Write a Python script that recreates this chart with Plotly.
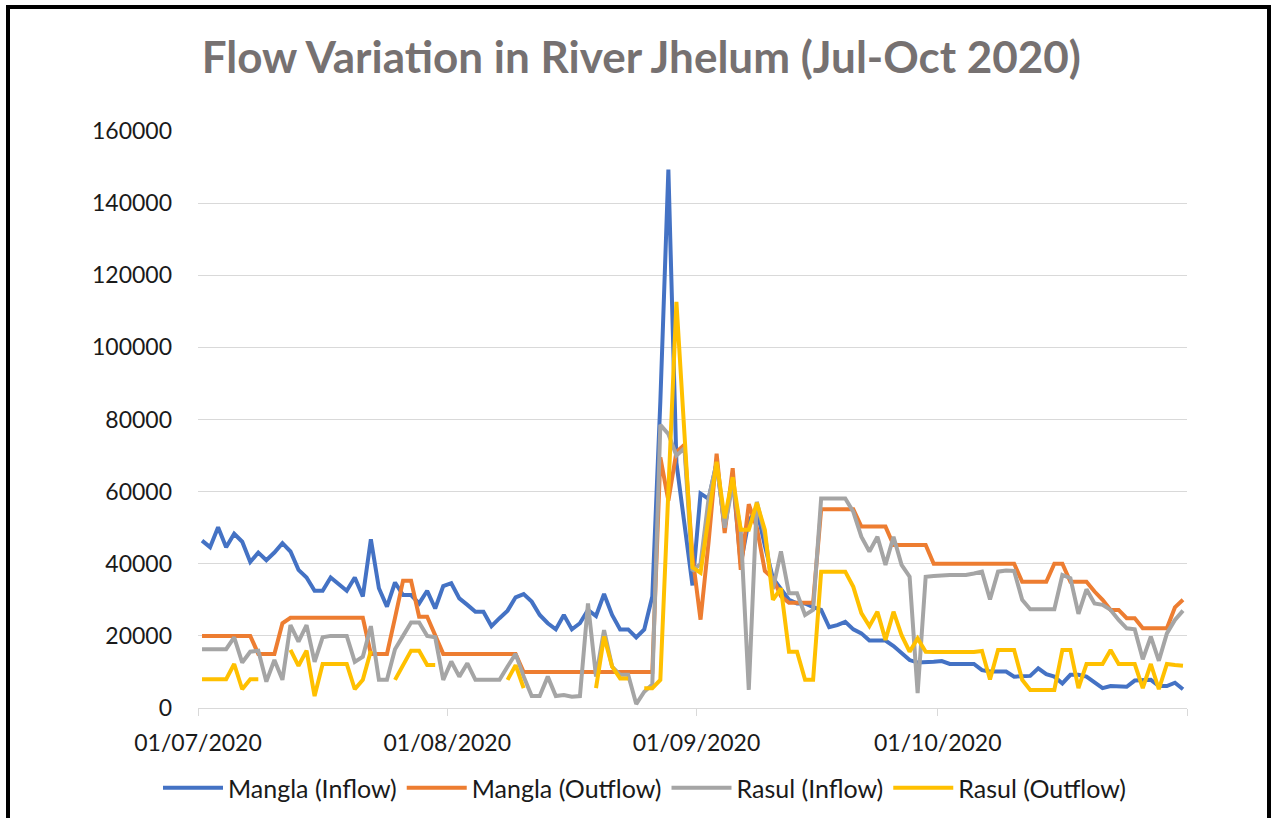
import pandas as pd
import plotly.graph_objects as go

# Daily dates (Jul 1 - Oct 31, 2020), plotted at mid-day like Excel's date axis
dates = pd.date_range("2020-07-01 12:00", "2020-10-31 12:00", freq="D")

mangla_inflow = [
    46.4, 44.6, 50.1, 44.6, 48.3, 46.1, 40.5, 43.1, 41.0, 43.1,
    45.7, 43.4, 38.3, 36.2, 32.5, 32.5, 36.2, 34.4, 32.5, 36.2,
    30.9, 46.8, 33.2, 28.1, 34.8, 31.3, 31.3, 29.0, 32.5, 27.6,
    33.8, 34.6, 30.4, 28.6, 26.7, 26.7, 22.7, 24.9, 27.0, 30.7,
    31.6, 29.5, 25.8, 23.5, 21.8, 25.8, 21.8, 23.5, 27.2, 25.5,
    31.6, 25.8, 21.8, 21.8, 19.6, 21.8, 30.9, 85.0, 149.3, 68.0,
    50.0, 34.0, 59.5, 58.0, 68.0, 50.0, 64.0, 40.0, 52.0, 55.0,
    45.0, 36.0, 33.0, 30.0, 29.0, 29.0, 28.0, 27.2, 22.4, 23.0,
    23.9, 21.8, 20.7, 18.7, 18.7, 18.7, 17.2, 15.2, 13.3, 12.6,
    12.6, 12.8, 13.0, 12.2, 12.2, 12.2, 12.2, 10.5, 10.1, 10.1,
    10.1, 8.7, 8.9, 8.9, 11.0, 9.4, 8.7, 6.8, 9.2, 9.2,
    8.7, 7.0, 5.5, 6.1, 6.1, 5.9, 7.6, 7.6, 7.8, 6.1,
    6.1, 7.0, 5.2,
]

mangla_outflow = [
    20, 20, 20, 20, 20, 20, 20, 15, 15, 15,
    23.5, 25, 25, 25, 25, 25, 25, 25, 25, 25,
    25, 15, 15, 15, 25, 35.3, 35.3, 25.3, 25.3, 20,
    15, 15, 15, 15, 15, 15, 15, 15, 15, 15,
    10, 10, 10, 10, 10, 10, 10, 10, 10, 10,
    10, 10, 10, 10, 10, 10, 10, 69.5, 57.5, 71.0,
    73.0, 42.0, 24.5, 46.0, 70.5, 48.5, 66.5, 38.3, 56.5, 50.0,
    38.0, 36.0, 31.0, 29.2, 29.2, 29.2, 29.2, 55.1, 55.1, 55.1,
    55.1, 55.1, 50.3, 50.3, 50.3, 50.3, 45.2, 45.2, 45.2, 45.2,
    45.2, 40, 40, 40, 40, 40, 40, 40, 40, 40,
    40, 40, 35, 35, 35, 35, 40, 40, 35, 35,
    35, 32.3, 30, 27.2, 27.2, 24.9, 24.9, 22.1, 22.1, 22.1,
    22.1, 27.9, 30,
]

rasul_inflow = [
    16.3, 16.3, 16.3, 16.3, 19.6, 12.6, 15.6, 15.9, 7.3, 13.3,
    7.8, 23.0, 18.4, 23.0, 12.8, 19.6, 20.0, 20.0, 20.0, 12.8,
    14.2, 22.7, 7.8, 7.8, 16.3, 20.0, 23.7, 23.7, 20.0, 19.6,
    7.8, 12.9, 8.7, 12.4, 7.8, 7.8, 7.8, 7.8, 11.5, 15.0,
    8.7, 3.3, 3.3, 8.7, 3.3, 3.6, 3.1, 3.3, 29.0, 8.7,
    21.6, 11.5, 9.2, 9.2, 1.1, 4.5, 6.5, 78.5, 76.0, 70.0,
    72.0, 38.0, 40.0, 58.0, 68.0, 50.0, 62.0, 49.4, 5.0, 57.2,
    48.0, 33.0, 43.4, 31.8, 31.8, 25.8, 27.2, 58.1, 58.1, 58.1,
    58.1, 54.4, 47.5, 43.4, 47.5, 39.7, 47.5, 39.7, 36.4, 4.1,
    36.4, 36.6, 36.8, 36.9, 36.9, 36.9, 37.3, 37.8, 30.1, 37.8,
    38.1, 38.0, 30.0, 27.4, 27.4, 27.4, 27.4, 36.9, 36.0, 26.1,
    32.9, 29.0, 28.6, 27.2, 24.4, 22.1, 21.8, 13.5, 19.8, 13.1,
    20.7, 24.4, 27.0,
]

rasul_outflow = [
    8, 8, 8, 8, 12.2, 5.2, 8, 8, None, None,
    None, 16.1, 11.7, 15.9, 3.3, 12.2, 12.2, 12.2, 12.2, 5.2,
    7.8, 15.9, None, None, 7.8, 11.9, 15.9, 15.9, 11.9, 11.9,
    None, None, None, None, None, None, None, None, 7.8, 11.9,
    5.5, None, None, None, None, None, None, None, None, 5.5,
    19.8, 11.5, 8.2, 8.2, None, 5.5, 5.5, 7.8, 60.0, 112.6,
    76.0, 39.0, 37.5, 53.0, 68.3, 52.6, 64.0, 49.4, 49.4, 56.9,
    49.4, 30.0, 33.2, 15.6, 15.6, 7.8, 7.8, 37.8, 37.8, 37.8,
    37.8, 33.6, 26.3, 22.7, 26.7, 18.9, 26.7, 20.2, 15.6, 19.3,
    15.6, 15.5, 15.5, 15.5, 15.5, 15.5, 15.5, 15.8, 7.9, 16.1,
    16.1, 16.1, 7.8, 5.0, 5.0, 5.0, 5.0, 16.1, 16.1, 5.5,
    12.2, 12.2, 12.2, 16.1, 12.2, 12.2, 12.2, 5.5, 12.2, 5.2,
    12.2, 11.9, 11.7,
]

series_names = ["Mangla (Inflow)", "Mangla (Outflow)", "Rasul (Inflow)", "Rasul (Outflow)"]
series_colors = ["#4472C4", "#ED7D31", "#A5A5A5", "#FFC000"]
series_values = [mangla_inflow, mangla_outflow, rasul_inflow, rasul_outflow]

tick_dates = ["2020-07-01", "2020-08-01", "2020-09-01", "2020-10-01", "2020-11-01"]
tick_labels = ["01/07/2020", "01/08/2020", "01/09/2020", "01/10/2020", ""]

FONT = "Lato"

fig = go.Figure()
for name, color, vals in zip(series_names, series_colors, series_values):
    fig.add_trace(go.Scatter(
        x=dates,
        y=[None if v is None else v * 1000 for v in vals],
        mode="lines",
        name=name,
        line=dict(color=color, width=4),
        connectgaps=False,
    ))

fig.update_layout(
    width=1275,
    height=818,
    paper_bgcolor="white",
    plot_bgcolor="white",
    margin=dict(l=198, r=88, t=131, b=110, autoexpand=False),
    title=dict(
        text="<b>Flow Variation in River Jhelum (Jul-Oct 2020)</b>",
        font=dict(family=FONT, size=44, color="#767171"),
        x=0.503, xref="container", xanchor="center",
        y=1 - 58 / 818, yref="container", yanchor="middle",
    ),
    font=dict(family=FONT, color="#1a1a1a"),
    showlegend=True,
    legend=dict(
        orientation="h",
        x=(645 - 198) / 989, xanchor="center",
        y=(708 - 788) / 577, yanchor="middle",
        font=dict(family=FONT, size=25, color="#1a1a1a"),
        itemwidth=60,
        traceorder="normal",
    ),
    xaxis=dict(
        type="date",
        range=["2020-07-01", "2020-11-01"],
        tickmode="array",
        tickvals=tick_dates,
        ticktext=tick_labels,
        showgrid=False,
        showline=True,
        linecolor="#D9D9D9",
        linewidth=1,
        ticks="outside",
        ticklen=7,
        tickcolor="#D9D9D9",
        tickfont=dict(family=FONT, size=23, color="#1a1a1a"),
        ticklabelstandoff=7,
        zeroline=False,
    ),
    yaxis=dict(
        range=[0, 160000],
        tickmode="linear",
        tick0=0,
        dtick=20000,
        tickformat="d",
        showgrid=True,
        gridcolor="#D9D9D9",
        gridwidth=1,
        zeroline=False,
        showline=False,
        ticks="",
        tickfont=dict(family=FONT, size=23, color="#1a1a1a"),
        ticklabelstandoff=25,
    ),
    shapes=[
        dict(
            type="rect", xref="paper", yref="paper",
            x0=(8 - 198) / 989, x1=(1269 - 198) / 989,
            y0=(708 - 840) / 577, y1=(708 - 7) / 577,
            line=dict(color="black", width=4),
            fillcolor="rgba(0,0,0,0)",
            layer="above",
        )
    ],
)

fig.write_html("out.html")
